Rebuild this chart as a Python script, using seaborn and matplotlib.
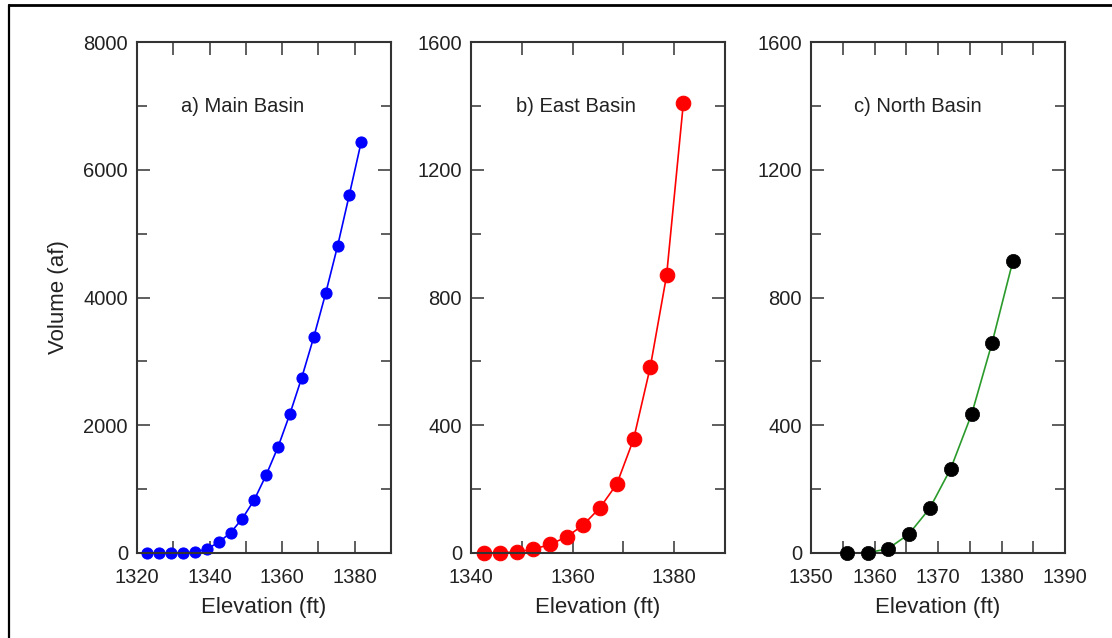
import matplotlib
matplotlib.use("Agg")
import matplotlib.pyplot as plt
import seaborn as sns
import pandas as pd
from matplotlib.ticker import MultipleLocator
from matplotlib.lines import Line2D

# ---- data ----
main_elev = [1322.8, 1326.1, 1329.4, 1332.7, 1335.9, 1339.2, 1342.5, 1345.8, 1349.0,
             1352.3, 1355.6, 1358.9, 1362.1, 1365.4, 1368.7, 1372.0, 1375.3, 1378.5, 1381.8]
main_vol = [0, 0, 2, 5, 15, 60, 167, 318, 537, 830, 1221, 1665, 2171, 2745, 3377,
            4066, 4811, 5605, 6439]

east_elev = [1342.5, 1345.7, 1349.0, 1352.3, 1355.6, 1358.9, 1362.1, 1365.4, 1368.7,
             1372.0, 1375.3, 1378.5, 1381.8]
east_vol = [0, 1, 3, 12, 27, 51, 88, 142, 216, 356, 583, 869, 1408]

north_elev = [1355.6, 1358.9, 1362.1, 1365.4, 1368.7, 1372.0, 1375.3, 1378.5, 1381.8]
north_vol = [0, 1, 13, 59, 140, 264, 435, 657, 915]

panel_titles = ["a) Main Basin", "b) East Basin", "c) North Basin"]
x_label = "Elevation (ft)"
y_label = "Volume (af)"

sns.set_theme(style="ticks")
plt.rcParams["font.family"] = ["Liberation Sans", "DejaVu Sans"]

TXT = "#222222"
SP = "#333333"

fig = plt.figure(figsize=(11.12, 6.38), dpi=100)
W, H = 1112, 638

def add_ax(left_px):
    return fig.add_axes([left_px / W, 1 - 553 / H, 254 / W, 511 / H])

ax_a = add_ax(137)
ax_b = add_ax(471)
ax_c = add_ax(811)

df_a = pd.DataFrame({"elev": main_elev, "vol": main_vol})
df_b = pd.DataFrame({"elev": east_elev, "vol": east_vol})
df_c = pd.DataFrame({"elev": north_elev, "vol": north_vol})

sns.lineplot(data=df_a, x="elev", y="vol", ax=ax_a, color="#0000ff", lw=1.2,
             marker="o", markersize=8, markeredgecolor="#0000ff",
             markerfacecolor="#0000ff", clip_on=False)
sns.lineplot(data=df_b, x="elev", y="vol", ax=ax_b, color="#ff0000", lw=1.2,
             marker="o", markersize=10.5, markeredgecolor="#ff0000",
             markerfacecolor="#ff0000", clip_on=False)
sns.lineplot(data=df_c, x="elev", y="vol", ax=ax_c, color="#2a9a2a", lw=1.2,
             marker=None, clip_on=False)
sns.scatterplot(data=df_c, x="elev", y="vol", ax=ax_c, color="black", s=105,
                edgecolor="black", linewidth=0.5, zorder=3, clip_on=False)

settings = [
    (ax_a, (1320, 1390), 20, 10, (0, 8000), 2000, 1000),
    (ax_b, (1340, 1390), 20, 10, (0, 1600), 400, 200),
    (ax_c, (1350, 1390), 10, 5, (0, 1600), 400, 200),
]

title_x = [0.173, 0.177, 0.169]

for i, (ax, xl, xmaj, xmin, yl, ymaj, ymin) in enumerate(settings):
    ax.set_xlim(*xl)
    ax.set_ylim(*yl)
    ax.xaxis.set_major_locator(MultipleLocator(xmaj))
    ax.xaxis.set_minor_locator(MultipleLocator(xmin))
    ax.yaxis.set_major_locator(MultipleLocator(ymaj))
    ax.yaxis.set_minor_locator(MultipleLocator(ymin))
    ax.tick_params(axis="both", which="both", direction="in", top=True, right=True,
                   color=SP, width=1.1, labelcolor=TXT, labelsize=14.5)
    ax.tick_params(axis="x", which="both", length=9, pad=11)
    ax.tick_params(axis="y", which="major", length=9.5, pad=6.5)
    ax.tick_params(axis="y", which="minor", length=7, pad=6.5)
    for s in ax.spines.values():
        s.set_color(SP)
        s.set_linewidth(1.5)
        s.set_visible(True)
    ax.set_xlabel(x_label, fontsize=16, color=TXT, labelpad=7)
    ax.set_ylabel("")
    ax.text(title_x[i], 0.873, panel_titles[i],
            transform=ax.transAxes, fontsize=14.5, color=TXT, va="center", ha="left")
    ax.set_facecolor("white")

ax_a.set_ylabel(y_label, fontsize=16, color=TXT, labelpad=10)

# outer frame (top and left lines)
fig.add_artist(Line2D([9 / W, 1.0], [1 - 5 / H, 1 - 5 / H], transform=fig.transFigure,
                      color="black", lw=2))
fig.add_artist(Line2D([9 / W, 9 / W], [0.0, 1 - 5 / H], transform=fig.transFigure,
                      color="black", lw=1.6))

fig.savefig("out.png", dpi=100, facecolor="white")
